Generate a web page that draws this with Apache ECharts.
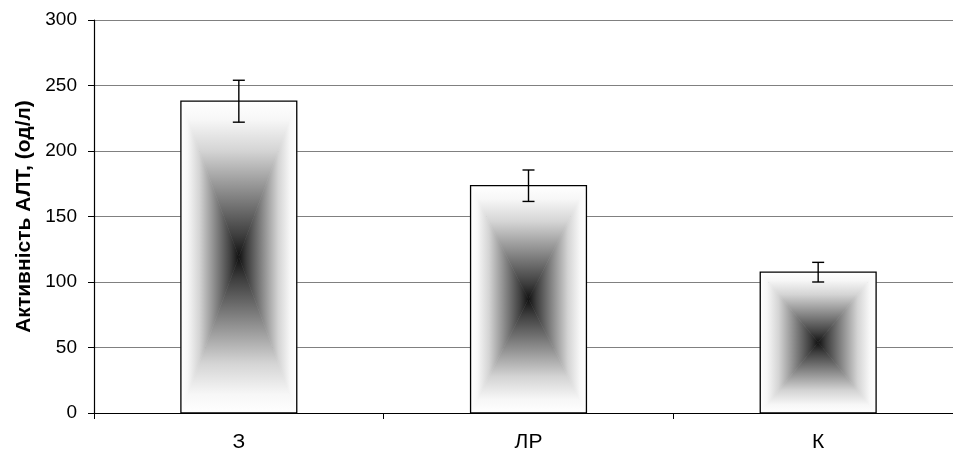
<!DOCTYPE html>
<html>
<head>
<meta charset="utf-8">
<script src="https://cdn.jsdelivr.net/npm/echarts@6/dist/echarts.min.js"></script>
<style>html,body{margin:0;padding:0;background:#fff;overflow:hidden}#c{width:963px;height:454px}</style>
</head>
<body>
<div id="c"></div>
<script>
const categories = ['З', 'ЛР', 'К'];
const values = [238, 173.5, 107.5];
const errors = [16, 12, 7.5];
const yTicks = { min: 0, max: 300, interval: 50 };
const yName = 'Активність АЛТ, (од/л)';

const chart = echarts.init(document.getElementById('c'), null, { renderer: 'canvas' });

const stops = (rev) => {
  const s = [
    [0, '#ffffff'], [0.12, '#f7f7f7'], [0.32, '#d4d4d4'], [0.52, '#9c9c9c'],
    [0.7, '#6a6a6a'], [0.86, '#3e3e3e'], [1, '#101010']
  ];
  return s.map(([o, c]) => ({ offset: rev ? 1 - o : o, color: c }));
};
const grad = (x, y, x2, y2, rev) => ({ type: 'linear', x, y, x2, y2, colorStops: stops(rev), global: false });

function renderBar(params, api) {
  const i = api.value(0), v = api.value(1);
  const top = api.coord([i, v]);
  const base = api.coord([i, 0]);
  const bw = api.size([1, 0])[0] * 0.4;
  const l = top[0] - bw / 2, r = top[0] + bw / 2, t = top[1], b = base[1];
  const cx = top[0], cy = (t + b) / 2;
  const poly = (pts, fill) => ({ type: 'polygon', shape: { points: pts }, style: { fill, stroke: fill, lineWidth: 0.6 } });
  return {
    type: 'group',
    children: [
      poly([[l, t], [r, t], [cx, cy]], grad(0, 0, 0, 1, false)),
      poly([[l, b], [r, b], [cx, cy]], grad(0, 0, 0, 1, true)),
      poly([[l, t], [l, b], [cx, cy]], grad(0, 0, 1, 0, false)),
      poly([[r, t], [r, b], [cx, cy]], grad(0, 0, 1, 0, true)),
      { type: 'rect', shape: { x: l, y: t, width: r - l, height: b - t }, style: { fill: 'none', stroke: '#000', lineWidth: 1.3 } }
    ]
  };
}

function renderErr(params, api) {
  const i = api.value(0), v = api.value(1), e = api.value(2);
  const hi = api.coord([i, v + e]);
  const lo = api.coord([i, v - e]);
  const cap = 6;
  const st = { stroke: '#000', lineWidth: 1.4 };
  return {
    type: 'group',
    children: [
      { type: 'line', shape: { x1: hi[0], y1: hi[1], x2: lo[0], y2: lo[1] }, style: st },
      { type: 'line', shape: { x1: hi[0] - cap, y1: hi[1], x2: hi[0] + cap, y2: hi[1] }, style: st },
      { type: 'line', shape: { x1: lo[0] - cap, y1: lo[1], x2: lo[0] + cap, y2: lo[1] }, style: st }
    ]
  };
}

const font = 'Liberation Sans, Arial, sans-serif';
chart.setOption({
  animation: false,
  backgroundColor: '#fff',
  grid: { left: 94, right: 0, top: 20, bottom: 41, containLabel: false },
  xAxis: {
    type: 'category',
    data: categories,
    axisLine: { lineStyle: { color: '#000', width: 1.2 } },
    axisTick: { show: true, length: 6, lineStyle: { color: '#000' } },
    axisLabel: { color: '#000', fontSize: 21, fontFamily: font, margin: 19 },
    z: 10
  },
  yAxis: {
    type: 'value',
    min: yTicks.min, max: yTicks.max, interval: yTicks.interval,
    name: yName,
    nameLocation: 'middle',
    nameGap: 59,
    nameTextStyle: { color: '#000', fontSize: 21, fontWeight: 'bold', fontFamily: font },
    axisLine: { show: true, lineStyle: { color: '#000', width: 1.2 } },
    axisTick: { show: true, length: 6, lineStyle: { color: '#000' } },
    axisLabel: { color: '#000', fontSize: 19, fontFamily: font, margin: 17 },
    splitLine: { show: true, lineStyle: { color: '#808080', width: 1.2 } }
  },
  series: [
    {
      type: 'custom',
      renderItem: renderBar,
      data: values.map((v, i) => [i, v]),
      encode: { x: 0, y: 1 },
      z: 2
    },
    {
      type: 'custom',
      renderItem: renderErr,
      data: values.map((v, i) => [i, v, errors[i]]),
      encode: { x: 0, y: 1 },
      z: 3
    }
  ]
});
</script>
</body>
</html>
